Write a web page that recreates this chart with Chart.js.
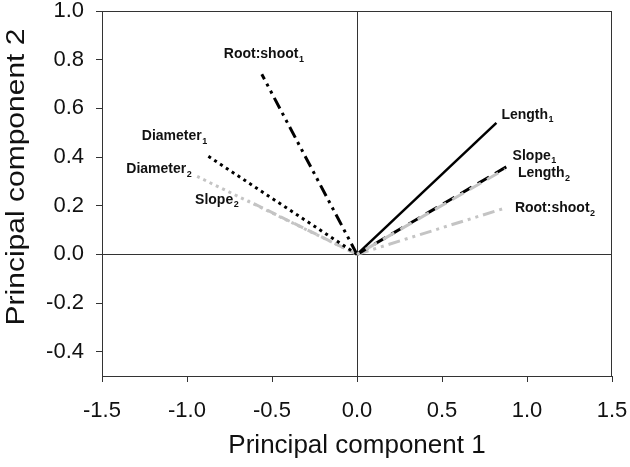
<!DOCTYPE html>
<html>
<head>
<meta charset="utf-8">
<script src="https://cdn.jsdelivr.net/npm/chart.js@4.4.0/dist/chart.umd.min.js"></script>
<style>
  html, body { margin: 0; padding: 0; background: #fff; }
  #wrap { width: 630px; height: 467px; }
</style>
</head>
<body>
<div id="wrap"><canvas id="pcaChart"></canvas></div>
<script>
// loadings
const varNames = ['Length', 'Slope', 'Length', 'Root:shoot', 'Root:shoot', 'Diameter', 'Diameter', 'Slope'];
const varSubs = ['1', '1', '2', '2', '1', '1', '2', '2'];
const pc1 = [0.82, 0.88, 0.87, 0.87, -0.56, -0.89, -0.94, -0.64];
const pc2 = [0.54, 0.36, 0.35, 0.19, 0.74, 0.41, 0.32, 0.22];

const xTicks = [-1.5, -1.0, -0.5, 0.0, 0.5, 1.0, 1.5];
const yTicks = [-0.4, -0.2, 0.0, 0.2, 0.4, 0.6, 0.8, 1.0];

const BLACK = '#000000';
const GREY = '#c4c4c4';
const FONT = '"Liberation Sans", Arial, sans-serif';

// line style per vector, and where its label sits (pixels from the tip)
const styles = [
    { color: BLACK, dash: [], width: 2.5, dx: 5, dy: -8, align: 'left' },
    { color: BLACK, dash: [13, 7], width: 3, dx: 6, dy: -11, align: 'left' },
    { color: GREY, dash: [13, 7], dashOffset: 10, width: 3, dx: 13, dy: 4, align: 'left' },
    { color: GREY, dash: [12, 5, 3, 5, 3, 5], width: 3, dx: 10, dy: 0, align: 'left' },
    { color: BLACK, dash: [12, 5, 3, 5, 3, 5], width: 3, dx: -38, dy: -20, align: 'left' },
    { color: BLACK, dash: [3, 4], width: 3, dx: 1, dy: -18, align: 'right' },
    { color: GREY, dash: [3, 4], width: 3, dx: -6, dy: -7, align: 'right' },
    { color: GREY, dash: [10, 5], width: 3, dx: -10, dy: -1, align: 'right' }
];

// draw order: grey Length2 goes under the black Slope1
const order = [2, 0, 1, 3, 4, 5, 6, 7];

const datasets = order.map(i => ({
    label: varNames[i] + varSubs[i],
    data: [{ x: 0, y: 0 }, { x: pc1[i], y: pc2[i] }],
    showLine: true,
    borderColor: styles[i].color,
    borderWidth: styles[i].width,
    borderDash: styles[i].dash,
    borderDashOffset: styles[i].dashOffset || 0,
    pointRadius: 0,
    pointHoverRadius: 0,
    fill: false
}));

const frameAndLabels = {
    id: 'frameAndLabels',
    afterDatasetsDraw(chart) {
        const { ctx, chartArea: a, scales } = chart;
        ctx.save();
        ctx.strokeStyle = '#333';
        ctx.lineWidth = 1;
        ctx.strokeRect(a.left + 0.5, a.top + 0.5, a.right - a.left - 1, a.bottom - a.top);

        ctx.fillStyle = '#111';
        ctx.textBaseline = 'middle';
        varNames.forEach((name, i) => {
            const s = styles[i];
            const px = scales.x.getPixelForValue(pc1[i]) + s.dx;
            const py = scales.y.getPixelForValue(pc2[i]) + s.dy;
            ctx.font = 'bold 14px ' + FONT;
            const w1 = ctx.measureText(name).width;
            ctx.font = 'bold 9px ' + FONT;
            const w2 = ctx.measureText(varSubs[i]).width;
            const x0 = s.align === 'right' ? px - w1 - w2 : px;
            ctx.font = 'bold 14px ' + FONT;
            ctx.fillText(name, x0, py);
            ctx.font = 'bold 9px ' + FONT;
            ctx.fillText(varSubs[i], x0 + w1 + 0.5, py + 5);
        });

        // y axis title, a bit stretched like the original figure
        ctx.translate(24, 177);
        ctx.rotate(-Math.PI / 2);
        ctx.scale(1.2, 1);
        ctx.font = '25px ' + FONT;
        ctx.textAlign = 'center';
        ctx.textBaseline = 'alphabetic';
        ctx.fillText('Principal component 2', 0, 0);
        ctx.restore();
    }
};

new Chart(document.getElementById('pcaChart'), {
    type: 'scatter',
    data: { datasets },
    options: {
        responsive: true,
        maintainAspectRatio: false,
        animation: false,
        layout: { padding: { top: 11, right: 18, left: 0, bottom: 0 } },
        plugins: { legend: { display: false }, tooltip: { enabled: false } },
        scales: {
            x: {
                type: 'linear',
                min: -1.5,
                max: 1.5,
                afterBuildTicks: s => { s.ticks = xTicks.map(v => ({ value: v })); },
                afterFit: s => { s.height = 91; s.paddingLeft = 0; s.paddingRight = 0; },
                grid: {
                    drawOnChartArea: true,
                    color: c => (c.tick && Math.abs(c.tick.value) < 1e-9 ? '#333' : 'rgba(0,0,0,0)'),
                    tickColor: '#333',
                    tickLength: 6,
                    lineWidth: 1
                },
                border: { display: true, color: '#333' },
                ticks: {
                    color: '#111',
                    padding: 16,
                    font: { family: FONT, size: 22 },
                    callback: v => Number(v).toFixed(1)
                },
                title: {
                    display: true,
                    text: 'Principal component 1',
                    color: '#111',
                    font: { family: FONT, size: 26, lineHeight: 1.2 },
                    padding: { top: 0, bottom: 6 }
                }
            },
            y: {
                type: 'linear',
                min: -0.5,
                max: 1.0,
                afterBuildTicks: s => { s.ticks = yTicks.map(v => ({ value: v })); },
                afterFit: s => { s.width = 102; s.paddingTop = 0; s.paddingBottom = 0; },
                grid: {
                    drawOnChartArea: true,
                    color: c => (c.tick && Math.abs(c.tick.value) < 1e-9 ? '#333' : 'rgba(0,0,0,0)'),
                    tickColor: '#333',
                    tickLength: 6,
                    lineWidth: 1
                },
                border: { display: true, color: '#333' },
                ticks: {
                    color: '#111',
                    padding: 12,
                    font: { family: FONT, size: 22 },
                    callback: v => Number(v).toFixed(1)
                },
                title: { display: false }
            }
        }
    },
    plugins: [frameAndLabels]
});
</script>
</body>
</html>
